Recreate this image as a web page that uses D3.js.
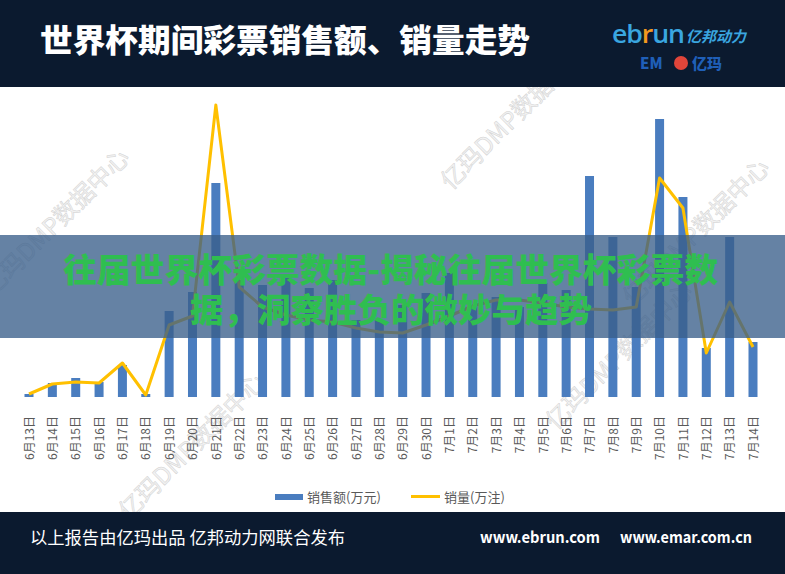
<!DOCTYPE html>
<html>
<head>
<meta charset="utf-8">
<script src="https://cdn.jsdelivr.net/npm/d3@7"></script>
<style>
  html, body { margin: 0; padding: 0; background: #fff; }
  svg { display: block; font-family: "Noto Sans CJK SC", "Noto Sans", sans-serif; }
</style>
</head>
<body>
<div id="chart"></div>
<script>
// dates on the x axis
const dates = ["6月13日","6月14日","6月15日","6月16日","6月17日","6月18日","6月19日","6月20日",
    "6月21日","6月22日","6月23日","6月24日","6月25日","6月26日","6月27日","6月28日","6月29日",
    "6月30日","7月1日","7月2日","7月3日","7月4日","7月5日","7月6日","7月7日","7月8日","7月9日",
    "7月10日","7月11日","7月12日","7月13日","7月14日"];

// 销售额 (万元)
const sales = [30,140,190,150,320,30,860,1050,2140,1170,1120,1190,1090,1170,770,770,920,
    1040,1240,900,1000,900,1140,1070,2210,1600,1100,2780,2000,490,1600,550];

// 销量 (万注)
const volume = [3,13,15,14,34,2,72,81,292,110,90,82,77,75,69,65,64,72,81,91,97,97,94,90,
    88,87,90,219,189,44,95,50];

const legendItems = ["销售额(万元)", "销量(万注)"];

const W = 785, H = 574;
const navy = "#0b1a2f";

let svg = d3.select("#chart").append("svg")
    .attr("width", W)
    .attr("height", H);

// faint watermarks behind everything
const marks = [[62, 228], [520, 122], [702, 238], [198, 452], [625, 362]];
marks.forEach(m => {
    svg.append("text")
        .attr("transform", `translate(${m[0]},${m[1]}) rotate(-45)`)
        .attr("text-anchor", "middle")
        .attr("font-size", 24)
        .attr("fill", "#f2f2f2")
        .attr("stroke", "#d2d2d2")
        .attr("stroke-width", 0.5)
        .text("亿玛DMP数据中心");
});

// header + footer bands
svg.append("rect").attr("x", 0).attr("y", 0).attr("width", W).attr("height", 87).attr("fill", navy);
svg.append("rect").attr("x", 0).attr("y", 512).attr("width", W).attr("height", H - 512).attr("fill", navy);

svg.append("text")
    .attr("x", 40).attr("y", 52)
    .attr("fill", "#fff")
    .attr("font-size", 32)
    .attr("font-weight", 900)
    .attr("textLength", 490)
    .attr("lengthAdjust", "spacingAndGlyphs")
    .text("世界杯期间彩票销售额、销量走势");

// logo, top right
let logo = svg.append("text")
    .attr("x", 612).attr("y", 43)
    .attr("font-size", 25)
    .attr("font-family", "Open Sans, sans-serif")
    .attr("font-weight", 600)
    .attr("letter-spacing", -1)
    .attr("textLength", 72)
    .attr("lengthAdjust", "spacingAndGlyphs");
logo.append("tspan").attr("fill", "#3aa6e0").text("eb");
logo.append("tspan").attr("fill", "#f39a1e").text("r");
logo.append("tspan").attr("fill", "#3aa6e0").text("un");
svg.append("text")
    .attr("x", 686).attr("y", 42)
    .attr("fill", "#3aa6e0")
    .attr("font-size", 15)
    .attr("font-weight", 700)
    .attr("font-style", "italic")
    .text("亿邦动力");
svg.append("text")
    .attr("x", 640).attr("y", 69)
    .attr("fill", "#1f5fb8")
    .attr("font-size", 15)
    .attr("font-weight", 900)
    .text("EM");
svg.append("circle").attr("cx", 681).attr("cy", 63).attr("r", 7).attr("fill", "#e0453a");
svg.append("text")
    .attr("x", 692).attr("y", 69)
    .attr("fill", "#1f5fb8")
    .attr("font-size", 15)
    .attr("font-weight", 900)
    .text("亿玛");

// scales
let x = d3.scalePoint().domain(dates).range([29, 753]);
let ySales = d3.scaleLinear().domain([0, 3000]).range([397, 97]);
let yVol = d3.scaleLinear().domain([0, 300]).range([397, 97]);
const barW = 9;

svg.append("g").selectAll("rect")
    .data(sales)
    .enter().append("rect")
    .attr("x", (d, i) => x(dates[i]) - barW / 2)
    .attr("y", d => ySales(d))
    .attr("width", barW)
    .attr("height", d => ySales(0) - ySales(d))
    .attr("fill", "#4a7dbf");

let line = d3.line()
    .x((d, i) => x(dates[i]))
    .y(d => yVol(d));

svg.append("path")
    .datum(volume)
    .attr("d", line)
    .attr("fill", "none")
    .attr("stroke", "#ffc000")
    .attr("stroke-width", 3)
    .attr("stroke-linejoin", "round");

// x axis labels, rotated
let xAxis = svg.append("g")
    .attr("transform", "translate(0,416)")
    .call(d3.axisBottom(x).tickSize(0).tickPadding(0));
xAxis.select(".domain").remove();
xAxis.selectAll("text")
    .attr("transform", "rotate(-90)")
    .attr("x", 0).attr("y", 0).attr("dy", "0.35em")
    .attr("text-anchor", "end")
    .attr("font-size", 12)
    .attr("font-family", "Noto Sans CJK SC, sans-serif")
    .attr("fill", "#595959");

// legend
let legend = svg.append("g");
legend.append("rect").attr("x", 275).attr("y", 494).attr("width", 28).attr("height", 6).attr("fill", "#4a7dbf");
legend.append("text").attr("x", 307).attr("y", 502).attr("font-size", 13).attr("fill", "#595959").text(legendItems[0]);
legend.append("rect").attr("x", 411).attr("y", 495).attr("width", 29).attr("height", 3).attr("fill", "#ffc000");
legend.append("text").attr("x", 444).attr("y", 502).attr("font-size", 13).attr("fill", "#595959").text(legendItems[1]);

// translucent banner across the middle
svg.append("rect")
    .attr("x", 0).attr("y", 235)
    .attr("width", W).attr("height", 103)
    .attr("fill", "#3a5f8a")
    .attr("opacity", 0.78);

svg.append("text")
    .attr("x", 63).attr("y", 282)
    .attr("font-size", 33)
    .attr("font-weight", 900)
    .attr("fill", "#2fbe50")
    .attr("textLength", 655)
    .attr("lengthAdjust", "spacingAndGlyphs")
    .text("往届世界杯彩票数据-揭秘往届世界杯彩票数");
svg.append("text")
    .attr("x", 190).attr("y", 322)
    .attr("font-size", 33)
    .attr("font-weight", 900)
    .attr("fill", "#2fbe50")
    .attr("textLength", 402)
    .attr("lengthAdjust", "spacingAndGlyphs")
    .text("据，洞察胜负的微妙与趋势");

// footer text
svg.append("text")
    .attr("x", 30).attr("y", 544)
    .attr("fill", "#fff")
    .attr("font-size", 17)
    .attr("textLength", 315)
    .attr("lengthAdjust", "spacingAndGlyphs")
    .text("以上报告由亿玛出品 亿邦动力网联合发布");
svg.append("text")
    .attr("x", 480).attr("y", 543)
    .attr("fill", "#fff")
    .attr("font-size", 16)
    .attr("font-weight", 700)
    .attr("textLength", 120)
    .attr("lengthAdjust", "spacingAndGlyphs")
    .text("www.ebrun.com");
svg.append("text")
    .attr("x", 620).attr("y", 543)
    .attr("fill", "#fff")
    .attr("font-size", 16)
    .attr("font-weight", 700)
    .attr("textLength", 132)
    .attr("lengthAdjust", "spacingAndGlyphs")
    .text("www.emar.com.cn");
</script>
</body>
</html>
